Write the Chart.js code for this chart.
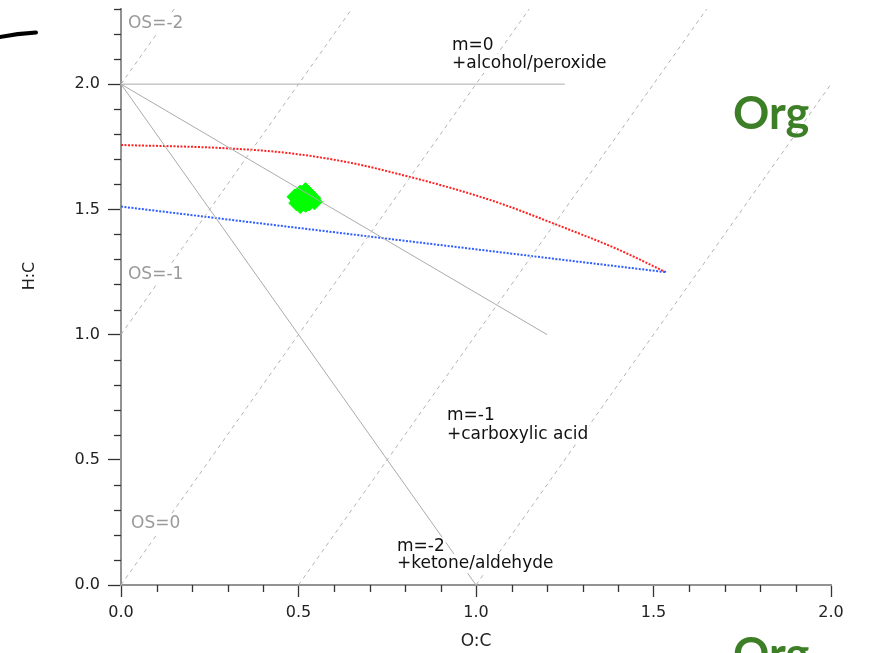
<!DOCTYPE html>
<html><head><meta charset="utf-8">
<script src="https://cdn.jsdelivr.net/npm/chart.js@4.4.1/dist/chart.umd.min.js"></script>
<style>
html,body{margin:0;padding:0;background:#fff;}
#wrap{position:relative;width:871px;height:653px;overflow:hidden;background:#fff;}
#c{position:absolute;left:0;top:0;}
.org{position:absolute;left:733px;font-family:Lato,"Open Sans",sans-serif;font-weight:700;font-size:45px;line-height:1;color:#3d7f26;}
#stroke{position:absolute;left:0;top:0;}
</style></head><body>
<div id="wrap">
<canvas id="c" width="871" height="653"></canvas>
<svg id="stroke" width="60" height="60"><path d="M-2,37.5 Q16,33.5 36,32.5" stroke="#000" stroke-width="4" fill="none" stroke-linecap="round"/></svg>
<div class="org" style="top:90px">Org</div>
<div class="org" style="top:631px">Org</div>
</div>
<script>
// ---- data (O:C on x, H:C on y) ----
const redOC = [0, 0.28, 0.47, 0.65, 0.79, 0.93, 1.07, 1.23, 1.40, 1.535];
const redHC = [1.757, 1.745, 1.725, 1.685, 1.638, 1.585, 1.523, 1.437, 1.34, 1.249];
const blueOC = [0, 1.535];
const blueHC = [1.511, 1.249];
const greenOC = [0.505, 0.52, 0.53, 0.54, 0.545, 0.53, 0.515, 0.50, 0.49, 0.495, 0.505, 0.52, 0.51, 0.525];
const greenHC = [1.565, 1.575, 1.56, 1.545, 1.53, 1.525, 1.535, 1.545, 1.55, 1.525, 1.515, 1.52, 1.55, 1.545];
// oxidation-state reference lines (start / end points)
const osNames = ['OS=-2', 'OS=-1', 'OS=0', 'OS=1', 'OS=2'];
const osStartOC = [0, 0, 0, 0.5, 1.0];
const osStartHC = [2, 1, 0, 0, 0];
const osEndOC = [0.15, 0.65, 1.15, 1.65, 2.0];
const osEndHC = [2.3, 2.3, 2.3, 2.3, 2.0];
// slope reference lines from (0,2)
const mNames = ['m=0', 'm=-1', 'm=-2'];
const mStartOC = [0, 0, 0];
const mStartHC = [2, 2, 2];
const mEndOC = [1.25, 1.2, 1.0];
const mEndHC = [2.0, 1.0, 0.0];
// axis settings
const xMin = 0, xMax = 2, yMin = 0, yMax = 2.3, tickStep = 0.1, labelStep = 0.5;
// annotation texts (anchored in data units: left, baseline)
const annoText = ['OS=-2', 'OS=-1', 'OS=0', 'm=0', '+alcohol/peroxide', 'm=-1', '+carboxylic acid', 'm=-2', '+ketone/aldehyde'];
const annoOC = [0.0197, 0.0197, 0.0282, 0.9324, 0.9324, 0.9183, 0.9183, 0.7775, 0.7775];
const annoHC = [2.2245, 1.2235, 0.2264, 2.137, 2.0656, 0.6594, 0.5839, 0.1351, 0.0675];
const annoKind = ['os', 'os', 'os', 'm', 'm', 'm', 'm', 'm', 'm'];

const pts = (xs, ys) => xs.map((x, i) => ({x: x, y: ys[i]}));
const isMajor = v => Math.abs(v / labelStep - Math.round(v / labelStep)) < 1e-6;

const datasets = [];
osNames.forEach((n, i) => datasets.push({
  label: n, data: pts([osStartOC[i], osEndOC[i]], [osStartHC[i], osEndHC[i]]),
  showLine: true, borderColor: '#b3b3b3', borderWidth: 1, borderDash: [4, 4], pointRadius: 0
}));
mNames.forEach((n, i) => datasets.push({
  label: n, data: pts([mStartOC[i], mEndOC[i]], [mStartHC[i], mEndHC[i]]),
  showLine: true, borderColor: '#ababab', borderWidth: 1, pointRadius: 0
}));
datasets.push({label: 'blue', data: pts(blueOC, blueHC), showLine: true, borderColor: '#2f5dff', borderWidth: 2, borderDash: [2, 1.5], pointRadius: 0});
datasets.push({label: 'red', data: pts(redOC, redHC), showLine: true, borderColor: '#ff2222', borderWidth: 2, borderDash: [2, 1.5], pointRadius: 0, cubicInterpolationMode: 'monotone'});
datasets.push({label: 'org', data: pts(greenOC, greenHC), showLine: false, pointStyle: 'rectRot', pointRadius: 8, backgroundColor: '#00ff00', borderColor: '#00ff00', borderWidth: 1});

const minorTicks = {
  id: 'minorTicks',
  afterDraw(chart) {
    const ctx = chart.ctx, xs = chart.scales.x, ys = chart.scales.y;
    ctx.save(); ctx.strokeStyle = '#333'; ctx.lineWidth = 1.3;
    xs.ticks.forEach(t => { if (!isMajor(t.value)) { const p = Math.round(xs.getPixelForValue(t.value)) + 0.5; ctx.beginPath(); ctx.moveTo(p, xs.top); ctx.lineTo(p, xs.top + 7); ctx.stroke(); } });
    ys.ticks.forEach(t => { if (!isMajor(t.value)) { const p = Math.round(ys.getPixelForValue(t.value)) + 0.5; ctx.beginPath(); ctx.moveTo(ys.right, p); ctx.lineTo(ys.right - 7, p); ctx.stroke(); } });
    ctx.restore();
  }
};
const annotations = {
  id: 'annotations',
  afterDatasetsDraw(chart) {
    const ctx = chart.ctx, xs = chart.scales.x, ys = chart.scales.y;
    ctx.save();
    ctx.font = '17px "DejaVu Sans"';
    ctx.textBaseline = 'alphabetic'; ctx.textAlign = 'left';
    annoText.forEach((t, i) => {
      const px = xs.getPixelForValue(annoOC[i]), py = ys.getPixelForValue(annoHC[i]);
      const w = ctx.measureText(t).width;
      ctx.fillStyle = '#fff';
      ctx.fillRect(px - 1, py - 14, w + 2, 19);
      ctx.fillStyle = annoKind[i] === 'os' ? '#9a9a9a' : '#111';
      ctx.fillText(t, px, py);
    });
    // y axis title
    ctx.translate(30, 276); ctx.rotate(-Math.PI / 2);
    ctx.font = '16px "DejaVu Sans"'; ctx.textAlign = 'center'; ctx.textBaseline = 'middle';
    ctx.fillStyle = '#222'; ctx.fillText('H:C', 0, 0);
    ctx.restore();
  }
};

new Chart(document.getElementById('c'), {
  type: 'scatter',
  data: {datasets: datasets},
  options: {
    responsive: false, animation: false, devicePixelRatio: 1,
    layout: {padding: {left: 0, right: 40, top: 6, bottom: 0}},
    plugins: {legend: {display: false}, tooltip: {enabled: false}},
    scales: {
      x: {
        type: 'linear', min: xMin, max: xMax,
        afterFit: s => { s.height = 68; s.paddingLeft = 0; s.paddingRight = 0; },
        border: {display: true, color: '#939393', width: 2},
        grid: {drawOnChartArea: false, drawTicks: true, tickLength: 12, tickWidth: 1.3,
          tickColor: c => isMajor(c.tick.value) ? '#333' : 'rgba(0,0,0,0)'},
        ticks: {stepSize: tickStep, autoSkip: false, maxRotation: 0, padding: 6, color: '#222',
          font: {family: 'DejaVu Sans', size: 16}, callback: v => isMajor(v) ? v.toFixed(1) : ''},
        title: {display: true, text: 'O:C', color: '#222', font: {family: 'DejaVu Sans', size: 17}, padding: {top: 0, bottom: 1}}
      },
      y: {
        type: 'linear', min: yMin, max: yMax,
        afterFit: s => { s.width = 121; s.paddingTop = 0; s.paddingBottom = 0; },
        border: {display: true, color: '#939393', width: 2},
        grid: {drawOnChartArea: false, drawTicks: true, tickLength: 13, tickWidth: 1.3,
          tickColor: c => isMajor(c.tick.value) ? '#333' : 'rgba(0,0,0,0)'},
        ticks: {stepSize: tickStep, autoSkip: false, padding: 8, color: '#222',
          font: {family: 'DejaVu Sans', size: 16}, callback: v => isMajor(v) ? v.toFixed(1) : ''}
      }
    }
  },
  plugins: [minorTicks, annotations]
});
</script>
</body></html>
